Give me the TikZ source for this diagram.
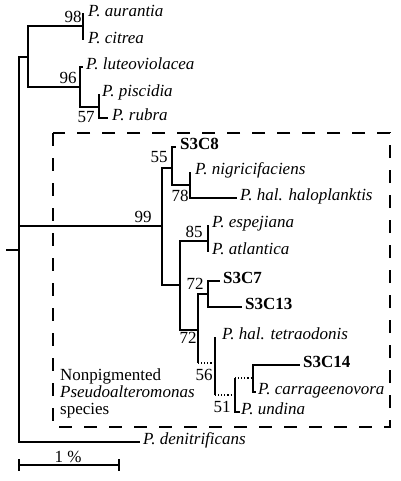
\documentclass[tikz,border=0pt]{standalone}
\usepackage{fontspec}
\setmainfont{Liberation Serif}
\begin{document}
\begin{tikzpicture}[x=1pt,y=-1pt,
  br/.style={line width=1.7pt},
  dotbr/.style={line width=1.1pt, dash pattern=on 1.1pt off 2pt},
  boxline/.style={line width=1.7pt, dash pattern=on 13pt off 12pt},
  sp/.style={anchor=mid west, inner sep=0pt, font=\fontsize{17}{19}\selectfont\itshape},
  iso/.style={anchor=mid west, inner sep=0pt, font=\fontsize{17}{19}\selectfont\bfseries},
  bs/.style={inner sep=0pt, font=\fontsize{17}{19}\selectfont},
  ]
\useasboundingbox (0,0) rectangle (400,481);
% internal nodes
\coordinate (rs) at (6,250);
\coordinate (root) at (19,250);
\coordinate (nA) at (28,57);
\coordinate (n98) at (83,26);
\coordinate (n96) at (80,87);
\coordinate (n57) at (99,107);
\coordinate (n99) at (162,226);
\coordinate (n55) at (172,168);
\coordinate (n78) at (190,185);
\coordinate (n72b) at (180,285);
\coordinate (n85) at (208,241);
\coordinate (n198) at (198,330);
\coordinate (n72a) at (208,294);
\coordinate (n56) at (215,363);
\coordinate (n51) at (235,395);
\coordinate (nS14) at (253,378);
% tips
\coordinate (aurT) at (83,13);
\coordinate (citT) at (83,40);
\coordinate (lutT) at (83,67);
\coordinate (pisT) at (99,94);
\coordinate (rubT) at (108,118);
\coordinate (s8T) at (176,147);
\coordinate (nigT) at (190,172);
\coordinate (halT) at (237,198);
\coordinate (espT) at (208,225);
\coordinate (atlT) at (208,252);
\coordinate (s7T) at (220,281);
\coordinate (s13T) at (242,307);
\coordinate (tetT) at (215,337);
\coordinate (s14T) at (300,365);
\coordinate (carT) at (256,392);
\coordinate (undT) at (240,412);
\coordinate (denT) at (140,442);
% labels
\node[sp] (aur) at (88,14) {P. aurantia};
\node[sp] (cit) at (88,41) {P. citrea};
\node[sp] (lut) at (86,67) {P. luteoviolacea};
\node[sp] (pis) at (102,94) {P. piscidia};
\node[sp] (rub) at (112,118) {P. rubra};
\node[iso] (s8) at (180,147) {S3C8};
\node[sp] (nig) at (195,172) {P. nigricifaciens};
\node[sp] (hal) at (240,198) {P. hal. haloplanktis};
\node[sp] (esp) at (212,225) {P. espejiana};
\node[sp] (atl) at (212,252) {P. atlantica};
\node[iso] (s7) at (223,281) {S3C7};
\node[iso] (s13) at (245,307) {S3C13};
\node[sp] (tet) at (222,337) {P. hal. tetraodonis};
\node[iso] (s14) at (303,365) {S3C14};
\node[sp] (car) at (258,392) {P. carrageenovora};
\node[sp] (und) at (241,412) {P. undina};
\node[sp] (den) at (143,442) {P. denitrificans};
% supports
\node[bs] (b98) at (73,17) {98};
\node[bs] (b96) at (68,78) {96};
\node[bs] (b57) at (86,117) {57};
\node[bs] (b99) at (143,217) {99};
\node[bs] (b55) at (159,157) {55};
\node[bs] (b78) at (180,196) {78};
\node[bs] (b85) at (194,232) {85};
\node[bs] (b72a) at (195,284) {72};
\node[bs] (b72b) at (188,338) {72};
\node[bs] (b56) at (204,375) {56};
\node[bs] (b51) at (222,407) {51};
% box text
\node[sp, font=\fontsize{17}{19}\selectfont] (np1) at (60,378) {Nonpigmented};
\node[sp] (np2) at (60,395) {Pseudoalteromonas};
\node[sp, font=\fontsize{17}{19}\selectfont] (np3) at (60,412) {species};
% box
\draw[boxline] (53,133) rectangle (390,427);
% branches
\draw[br] (rs) -- (root);
\draw[br] (root) |- (nA);
\draw[br] (root) |- (n99);
\draw[br] (root) |- (denT);
\draw[br] (nA) |- (n98);
\draw[br] (nA) |- (n96);
\draw[br] (n98) |- (aurT);
\draw[br] (n98) |- (citT);
\draw[br] (n96) |- (lutT);
\draw[br] (n96) |- (n57);
\draw[br] (n57) |- (pisT);
\draw[br] (n57) |- (rubT);
\draw[br] (n99) |- (n55);
\draw[br] (n99) |- (n72b);
\draw[br] (n55) |- (s8T);
\draw[br] (n55) |- (n78);
\draw[br] (n78) |- (nigT);
\draw[br] (n78) |- (halT);
\draw[br] (n72b) |- (n85);
\draw[br] (n72b) |- (n198);
\draw[br] (n85) |- (espT);
\draw[br] (n85) |- (atlT);
\draw[br] (n198) |- (n72a);
\draw[br] (n72a) |- (s7T);
\draw[br] (n72a) |- (s13T);
\draw[br] (n198) -- (n198 |- n56);
\draw[dotbr] (n198 |- n56) -- (n56);
\draw[br] (n56) |- (tetT);
\draw[br] (n56) -- (n56 |- n51);
\draw[dotbr] (n56 |- n51) -- (n51);
\draw[br] (n51) -- (n51 |- nS14);
\draw[dotbr] (n51 |- nS14) -- (nS14);
\draw[br] (n51) |- (undT);
\draw[br] (nS14) |- (s14T);
\draw[br] (nS14) |- (carT);
% scale bar
\coordinate (sbL) at (19,465);
\coordinate (sbR) at (119,465);
\draw[br] (sbL) -- (sbR);
\draw[br] ([yshift=6pt]sbL) -- ([yshift=-6pt]sbL);
\draw[br] ([yshift=6pt]sbR) -- ([yshift=-6pt]sbR);
\node[bs] (sbl) at (68,457) {1 \%};
\end{tikzpicture}
\end{document}
